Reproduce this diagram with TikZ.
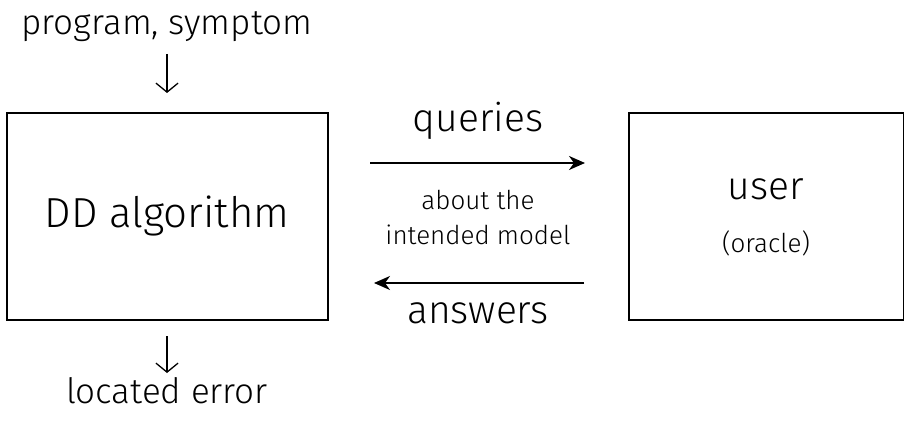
\documentclass[tikz,border=0pt]{standalone}
\usepackage{fontspec}
\setmainfont{Fira Sans Light}[BoldFont=Fira Sans]
\usetikzlibrary{arrows.meta}
\begin{document}
\begin{tikzpicture}[x=1pt,y=-1pt,
  box/.style={draw, line width=1.1pt},
  lbl/.style={inner sep=0pt, anchor=base},
  big/.style={font=\fontsize{39}{42}\selectfont},
  mid/.style={font=\fontsize{35}{38}\selectfont},
  small/.style={font=\fontsize{26}{28}\selectfont},
  flow/.style={line width=1.9pt, -{Stealth[length=16pt,width=14pt,inset=5pt]}},
  down/.style={line width=1.3pt, -{Straight Barb[length=9pt,width=22pt]}}]
\useasboundingbox (0,0) rectangle (904,422);
\draw[box] (7,113) rectangle (328,320);
\draw[box] (629,113) rectangle (903.4,320);
\node[lbl, font=\fontsize{42}{44}\selectfont] (dd) at (167,227) {DD algorithm};
\node[lbl, mid] (prog) at (167,35) {program, symptom};
\node[lbl, mid] (loc) at (167,403) {located error};
\coordinate (pa) at (167,54);
\coordinate (pb) at (167,93);
\coordinate (la) at (167,336);
\coordinate (lb) at (167,373);
\draw[down] (pa) -- (pb);
\draw[down] (la) -- (lb);
\node[lbl, big] (q) at (478,132) {queries};
\node[lbl, small] (ab) at (478,209) {about the};
\node[lbl, small] (im) at (478,244) {intended model};
\node[lbl, big] (an) at (478,323) {answers};
\coordinate (q1) at (370,163);
\coordinate (q2) at (585,163);
\coordinate (a1) at (584,283);
\coordinate (a2) at (374,283);
\draw[flow] (q1) -- (q2);
\draw[flow] (a1) -- (a2);
\node[lbl, big] (us) at (766,199) {user};
\node[lbl, small] (or) at (766,252) {(oracle)};
\end{tikzpicture}
\end{document}
